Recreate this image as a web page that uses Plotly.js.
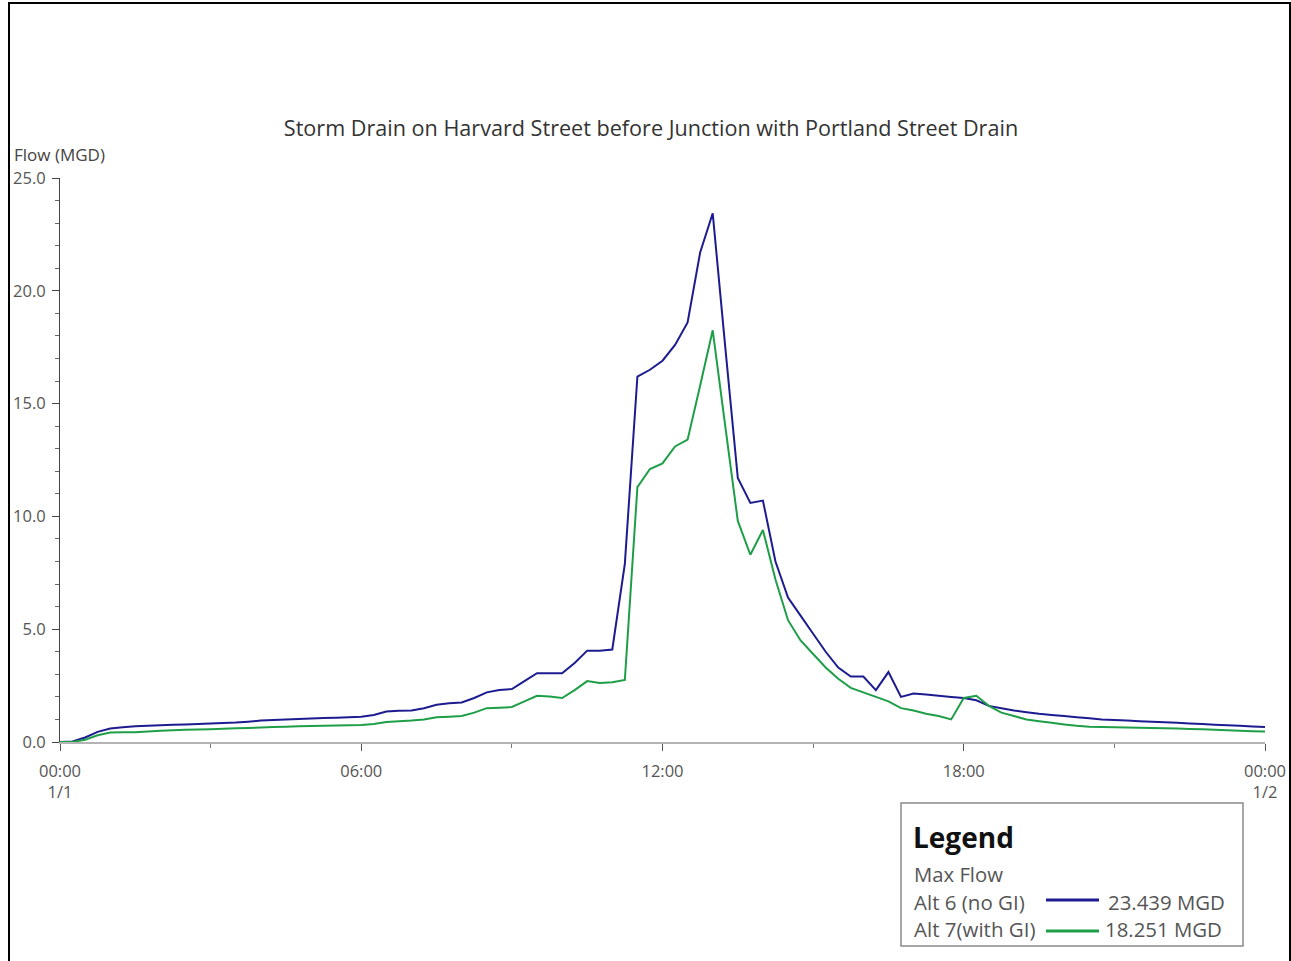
<!DOCTYPE html>
<html>
<head>
<meta charset="utf-8">
<script src="https://cdn.plot.ly/plotly-3.0.1.min.js"></script>
<style>
  html, body { margin: 0; padding: 0; background: #fff; }
  #chart { width: 1291px; height: 961px; }
</style>
</head>
<body>
<div id="chart"></div>
<script>
// ---- Data (15-minute time steps, hours since 00:00 on 1/1) ----
const stepHours = 0.25;
const alt6NoGI = [
  0, 0.02, 0.2, 0.45, 0.6, 0.65, 0.7, 0.72, 0.74, 0.76,
  0.78, 0.8, 0.82, 0.84, 0.86, 0.9, 0.95, 0.98, 1.0, 1.02,
  1.04, 1.06, 1.08, 1.1, 1.12, 1.2, 1.35, 1.38, 1.4, 1.5,
  1.65, 1.72, 1.75, 1.95, 2.2, 2.3, 2.35, 2.7, 3.05, 3.05,
  3.05, 3.5, 4.05, 4.05, 4.1, 7.9, 16.2, 16.5, 16.9, 17.6,
  18.6, 21.7, 23.439, 17.5, 11.7, 10.6, 10.7, 8.0, 6.4, 5.6,
  4.8, 4.0, 3.3, 2.9, 2.9, 2.3, 3.1, 2.0, 2.15, 2.1,
  2.05, 2.0, 1.95, 1.85, 1.6, 1.5, 1.4, 1.32, 1.25, 1.2,
  1.15, 1.1, 1.05, 1.0, 0.97, 0.95, 0.92, 0.9, 0.88, 0.85,
  0.82, 0.8, 0.77, 0.74, 0.72, 0.69, 0.66
];
const alt7WithGI = [
  0, 0, 0.1, 0.3, 0.42, 0.43, 0.43, 0.46, 0.5, 0.52,
  0.54, 0.55, 0.57, 0.59, 0.61, 0.62, 0.64, 0.66, 0.68, 0.7,
  0.71, 0.72, 0.73, 0.74, 0.75, 0.8, 0.89, 0.92, 0.95, 1.0,
  1.1, 1.12, 1.15, 1.3, 1.5, 1.52, 1.55, 1.8, 2.05, 2.02,
  1.95, 2.3, 2.7, 2.62, 2.65, 2.75, 11.3, 12.1, 12.35, 13.1,
  13.4, 15.8, 18.251, 14.0, 9.8, 8.3, 9.4, 7.2, 5.4, 4.5,
  3.9, 3.3, 2.8, 2.4, 2.2, 2.0, 1.8, 1.5, 1.4, 1.25,
  1.15, 1.0, 1.95, 2.05, 1.6, 1.3, 1.15, 1.0, 0.92, 0.85,
  0.78, 0.72, 0.68, 0.66, 0.65, 0.64, 0.63, 0.62, 0.61, 0.6,
  0.58, 0.56, 0.54, 0.52, 0.5, 0.48, 0.46
];
const seriesNames = ["Alt 6 (no GI)", "Alt 7(with GI)"];
const maxFlowLabels = ["23.439 MGD", "18.251 MGD"];
const xTickVals = [0, 6, 12, 18, 24];
const xTickText = ["00:00<br>1/1", "06:00", "12:00", "18:00", "00:00<br>1/2"];
const titleText = "Storm Drain on Harvard Street before Junction with Portland Street Drain";

const times = alt6NoGI.map((_, i) => i * stepHours);

// ---- Layout helpers (pixel -> paper) ----
const W = 1291, H = 961;
const L = 60, R = 1265, T = 178, B = 742;
const px = x => (x - L) / (R - L);
const py = y => (B - y) / (B - T);

const blue = '#1c1c90';
const green = '#1f9e48';
const font = '"Open Sans", "Noto Sans", sans-serif';

const traces = [
  { x: times, y: alt6NoGI, type: 'scatter', mode: 'lines', name: seriesNames[0],
    line: { color: blue, width: 2, simplify: false }, cliponaxis: false },
  { x: times, y: alt7WithGI, type: 'scatter', mode: 'lines', name: seriesNames[1],
    line: { color: green, width: 2, simplify: false }, cliponaxis: false }
];

const layout = {
  width: W, height: H,
  margin: { l: L, r: W - R, t: T, b: H - B, pad: 0 },
  paper_bgcolor: '#fff', plot_bgcolor: '#fff',
  showlegend: false,
  font: { family: font, color: '#555', size: 16 },
  title: {
    text: titleText,
    font: { family: font, size: 21.6, color: '#333' },
    xref: 'container', yref: 'container',
    x: 651 / W, y: 1 - 128 / H, xanchor: 'center', yanchor: 'middle'
  },
  xaxis: {
    range: [0, 24], tickmode: 'array', tickvals: xTickVals, ticktext: xTickText,
    showgrid: false, zeroline: false,
    showline: true, linecolor: '#b4b4b4', linewidth: 2,
    ticks: 'outside', ticklen: 7, tickcolor: '#555', tickwidth: 1,
    ticklabelstandoff: 6,
    minor: { dtick: 3, tick0: 0, ticks: 'outside', ticklen: 4, tickcolor: '#777' },
    tickfont: { family: font, size: 16.5, color: '#555' }
  },
  yaxis: {
    range: [0, 25], tick0: 0, dtick: 5, tickformat: '.1f',
    showgrid: false, zeroline: false,
    showline: true, linecolor: '#444', linewidth: 1,
    ticks: 'outside', ticklen: 7, tickcolor: '#444', tickwidth: 1,
    ticklabelstandoff: 3,
    minor: { dtick: 1, ticks: 'outside', ticklen: 4, tickcolor: '#666' },
    tickfont: { family: font, size: 16.5, color: '#555' }
  },
  shapes: [
    // outer frame
    { type: 'rect', xref: 'paper', yref: 'paper',
      x0: px(9), x1: px(1290), y0: py(970), y1: py(3),
      line: { color: '#000', width: 2 }, fillcolor: 'rgba(0,0,0,0)' },
    // legend box
    { type: 'rect', xref: 'paper', yref: 'paper',
      x0: px(901), x1: px(1243), y0: py(946), y1: py(803),
      line: { color: '#8a8a8a', width: 1.5 }, fillcolor: '#fff' },
    // legend line samples
    { type: 'line', xref: 'paper', yref: 'paper',
      x0: px(1046), x1: px(1099), y0: py(900), y1: py(900),
      line: { color: blue, width: 3 } },
    { type: 'line', xref: 'paper', yref: 'paper',
      x0: px(1046), x1: px(1099), y0: py(931), y1: py(931),
      line: { color: green, width: 3 } }
  ],
  annotations: [
    { text: 'Flow (MGD)', xref: 'paper', yref: 'paper', x: px(12), y: py(155),
      xanchor: 'left', yanchor: 'middle', showarrow: false,
      font: { family: font, size: 17, color: '#444' } },
    { text: '<b>Legend</b>', xref: 'paper', yref: 'paper', x: px(911), y: py(837),
      xanchor: 'left', yanchor: 'middle', showarrow: false,
      font: { family: font, size: 28, color: '#111' } },
    { text: 'Max Flow', xref: 'paper', yref: 'paper', x: px(912), y: py(874),
      xanchor: 'left', yanchor: 'middle', showarrow: false,
      font: { family: font, size: 20.3, color: '#555' } },
    { text: seriesNames[0], xref: 'paper', yref: 'paper', x: px(912), y: py(902),
      xanchor: 'left', yanchor: 'middle', showarrow: false,
      font: { family: font, size: 20.5, color: '#555' } },
    { text: seriesNames[1], xref: 'paper', yref: 'paper', x: px(912), y: py(929),
      xanchor: 'left', yanchor: 'middle', showarrow: false,
      font: { family: font, size: 20.5, color: '#555' } },
    { text: maxFlowLabels[0], xref: 'paper', yref: 'paper', x: px(1106), y: py(902),
      xanchor: 'left', yanchor: 'middle', showarrow: false,
      font: { family: font, size: 20.4, color: '#555' } },
    { text: maxFlowLabels[1], xref: 'paper', yref: 'paper', x: px(1103), y: py(929),
      xanchor: 'left', yanchor: 'middle', showarrow: false,
      font: { family: font, size: 20.4, color: '#555' } }
  ]
};

Plotly.newPlot('chart', traces, layout, { displayModeBar: false, staticPlot: true });
</script>
</body>
</html>
